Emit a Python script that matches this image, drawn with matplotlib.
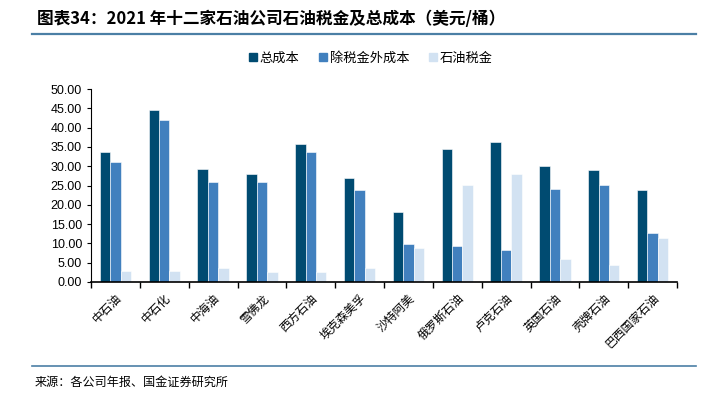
import numpy as np
import matplotlib
matplotlib.use("Agg")
import matplotlib.pyplot as plt
from matplotlib.lines import Line2D

plt.rcParams["font.family"] = ["Noto Sans CJK SC", "DejaVu Sans"]

companies = ["中石油", "中石化", "中海油", "雪佛龙", "西方石油", "埃克森美孚",
             "沙特阿美", "俄罗斯石油", "卢克石油", "英国石油", "壳牌石油", "巴西国家石油"]
total_cost = [33.7, 44.6, 29.2, 27.9, 35.8, 27.0, 18.2, 34.5, 36.2, 30.1, 29.1, 23.8]
cost_ex_tax = [31.1, 42.0, 25.8, 25.8, 33.6, 23.9, 9.8, 9.4, 8.2, 24.2, 25.1, 12.8]
oil_tax = [2.9, 2.9, 3.5, 2.5, 2.5, 3.5, 8.8, 25.1, 27.9, 6.0, 4.5, 11.3]
series_names = ["总成本", "除税金外成本", "石油税金"]
colors = ["#004B71", "#4180BE", "#D2E2F2"]

fig = plt.figure(figsize=(7.24, 4.01), dpi=100)
# axes box: x 91..677 px, y 89..282 px
ax = fig.add_axes([91 / 724, 1 - 282 / 401, 586 / 724, 193 / 401])

x = np.arange(len(companies))
w = 0.215
for i, (vals, c) in enumerate(zip([total_cost, cost_ex_tax, oil_tax], colors)):
    ax.bar(x + (i - 1) * w, vals, w, color=c, edgecolor="white", linewidth=0.4,
           label=series_names[i])

ax.set_xlim(-0.5, len(companies) - 0.5)
ax.set_ylim(0, 50)
yt = np.arange(0, 50.1, 5)
ax.set_yticks(yt)
ax.set_yticklabels([f"{v:.2f}" for v in yt], fontsize=9, family="Liberation Sans")
ax.set_xticks(np.arange(-0.5, len(companies) + 0.5, 1))
ax.set_xticklabels([])
ax.set_xticks(x, minor=True)
ax.set_xticklabels(companies, minor=True, rotation=45, ha="right",
                   rotation_mode="anchor", fontsize=8.5)
ax.tick_params(axis="x", which="minor", length=0, pad=7)
ax.tick_params(axis="x", which="major", length=4, direction="out", width=1)
ax.tick_params(axis="y", length=3, direction="out", width=0.8)
for s in ["top", "right"]:
    ax.spines[s].set_visible(False)
ax.spines["left"].set_linewidth(0.8)
ax.spines["bottom"].set_linewidth(1.2)

handles = [Line2D([], [], marker="s", linestyle="none", markersize=6,
                  markerfacecolor=c, markeredgecolor=c) for c in colors]
fig.legend(handles, series_names, loc="center", bbox_to_anchor=(370 / 724, 1 - 58 / 401),
           ncol=3, frameon=False, fontsize=9.5, handletextpad=0.1,
           columnspacing=1.4, handlelength=0.8)

fig.text(37 / 724, 1 - 19 / 401, "图表34：2021 年十二家石油公司石油税金及总成本（美元/桶）",
         fontsize=12, fontweight="bold", ha="left", va="center")
fig.add_artist(Line2D([32 / 724, 696 / 724], [1 - 34 / 401] * 2, color="#4B7FA5", linewidth=1.6))
fig.add_artist(Line2D([32 / 724, 696 / 724], [1 - 366 / 401] * 2, color="#4B7FA5", linewidth=1.2))
fig.text(35 / 724, 1 - 382 / 401, "来源：各公司年报、国金证券研究所", fontsize=8.7,
         ha="left", va="center")

fig.savefig("out.png", dpi=100)
